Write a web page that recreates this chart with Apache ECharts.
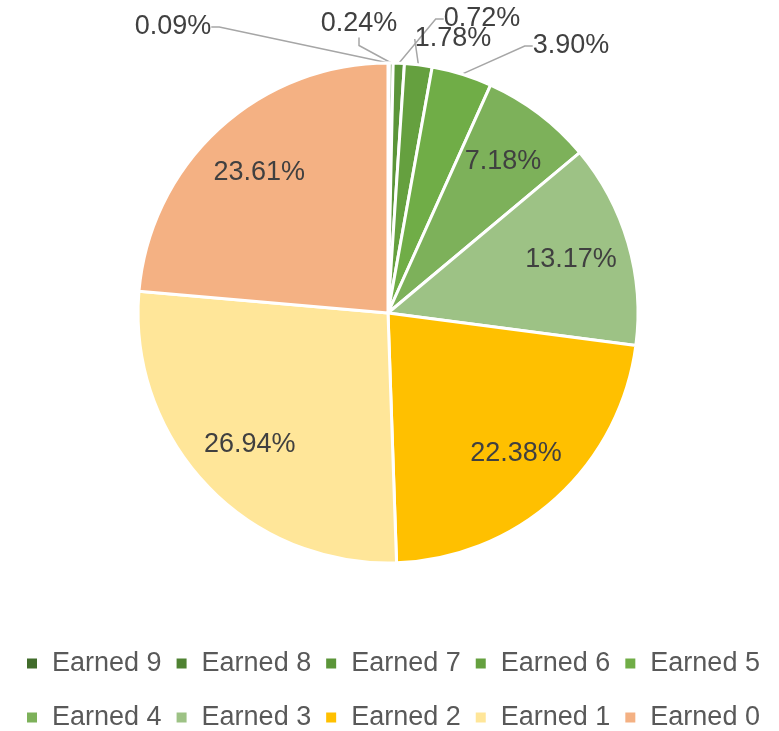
<!DOCTYPE html>
<html>
<head>
<meta charset="utf-8">
<script src="https://cdn.jsdelivr.net/npm/echarts@6/dist/echarts.min.js"></script>
<style>
  html, body { margin: 0; padding: 0; background: #fff; }
  #chart { width: 779px; height: 731px; }
</style>
</head>
<body>
<div id="chart"></div>
<script>
// slices clockwise from 12 o'clock
const names = ['Earned 9', 'Earned 8', 'Earned 7', 'Earned 6', 'Earned 5',
               'Earned 4', 'Earned 3', 'Earned 2', 'Earned 1', 'Earned 0'];
const shares = [0.09, 0.24, 0.72, 1.78, 3.90, 7.18, 13.17, 22.38, 26.94, 23.61];
const colors = ['#416c2b', '#4f8232', '#5b9539', '#65a03f', '#70ad47',
                '#7db15a', '#9dc285', '#ffc000', '#ffe699', '#f4b183'];

// small slices get outside labels, placed like the excel original
const firstInside = 5;
const labelSpots = {0: [173, 27], 1: [359, 24], 2: [482, 19], 3: [453, 39], 4: [571, 46]};

const font = 'Liberation Sans, Arial, sans-serif';
const fmt = p => p.value.toFixed(2) + '%';

var myChart = echarts.init(document.getElementById('chart'));

let mainData = names.map((n, i) => ({
  name: n,
  value: shares[i],
  itemStyle: {color: colors[i]},
  label: {show: i < firstInside},
  labelLine: {show: i < firstInside}
}));

// ring only used to put the inside labels at ~3/4 radius
let ringData = names.map((n, i) => ({
  name: n,
  value: shares[i],
  label: {show: i >= firstInside}
}));

let option = {
  animation: false,
  legend: {
    data: names,
    left: 27,
    top: 644,
    width: 750,
    padding: 0,
    itemWidth: 10,
    itemHeight: 10,
    itemGap: 15,
    icon: 'rect',
    itemStyle: {borderWidth: 0, borderColor: 'rgba(0,0,0,0)'},
    textStyle: {fontFamily: font, fontSize: 27, color: '#595959', lineHeight: 39, padding: [0, 0, 0, 10]}
  },
  series: [{
    type: 'pie',
    center: [388, 313],
    radius: 250,
    startAngle: 90,
    clockwise: true,
    avoidLabelOverlap: false,
    data: mainData,
    itemStyle: {borderColor: '#fff', borderWidth: 3},
    label: {
      position: 'outside',
      formatter: fmt,
      fontFamily: font,
      fontSize: 27,
      color: '#404040'
    },
    labelLine: {length: 12, length2: 8, lineStyle: {color: '#a6a6a6', width: 1.5}},
    labelLayout: function (p) {
      let s = labelSpots[p.dataIndex];
      if (!s) { return; }
      return {x: s[0], y: s[1], align: 'center', verticalAlign: 'middle'};
    },
    emphasis: {disabled: true}
  }, {
    type: 'pie',
    center: [388, 313],
    radius: [125, 250],
    startAngle: 90,
    clockwise: true,
    silent: true,
    legendHoverLink: false,
    data: ringData,
    itemStyle: {color: 'rgba(0,0,0,0)', borderWidth: 0},
    label: {
      position: 'inside',
      formatter: fmt,
      fontFamily: font,
      fontSize: 27,
      color: '#404040'
    },
    labelLine: {show: false},
    emphasis: {disabled: true}
  }]
};

myChart.setOption(option);
</script>
</body>
</html>
